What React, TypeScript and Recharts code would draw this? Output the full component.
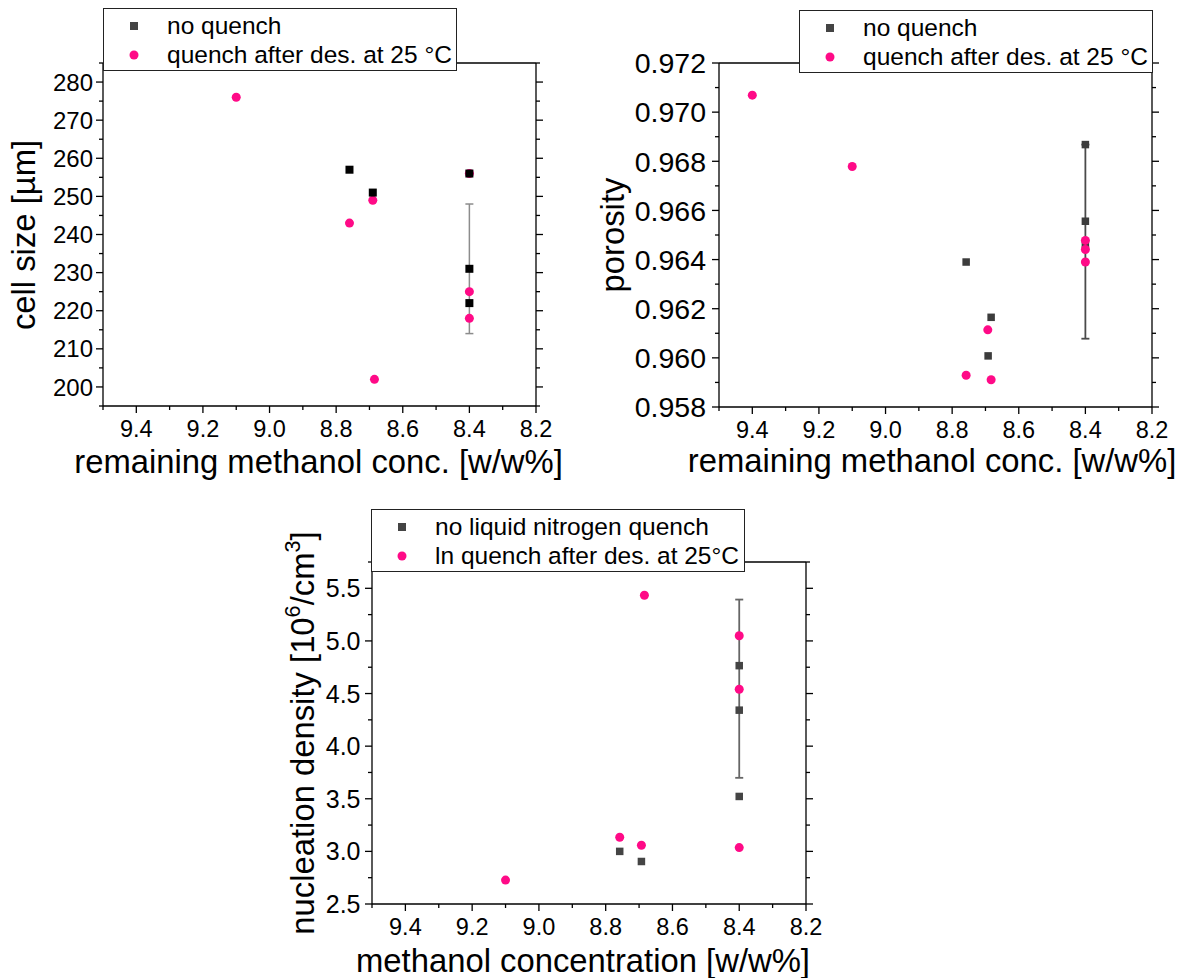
import React from 'react';
import { ScatterChart, Scatter, XAxis, YAxis, ErrorBar, Legend } from 'recharts';

const FONT = '"Liberation Sans", Arial, Helvetica, sans-serif';
const PINK = '#ff0a87';
const LEGEND_GREY = '#444';
const TITLE_SIZE = 32.8;

// remaining methanol concentration [w/w%] (shared x axis)
const concMajor = [9.4, 9.2, 9.0, 8.8, 8.6, 8.4, 8.2];
const concMinor = [9.5, 9.3, 9.1, 8.9, 8.7, 8.5, 8.3];

// cell size [µm]
const cellMajor = [200, 210, 220, 230, 240, 250, 260, 270, 280];
const cellMinor = [195, 205, 215, 225, 235, 245, 255, 265, 275, 285];
const cellNoQuenchConc = [8.76, 8.69, 8.4, 8.4, 8.4];
const cellNoQuench = [257, 251, 256, 231, 222];
const cellQuenchConc = [9.1, 8.76, 8.69, 8.685, 8.4, 8.4, 8.4];
const cellQuench = [276, 243, 249, 202, 256, 225, 218];
const cellErrConc = [8.4];
const cellErrMean = [231];
const cellErrDev = [17];

// porosity
const poroMajor = [0.958, 0.96, 0.962, 0.964, 0.966, 0.968, 0.97, 0.972];
const poroMinor = [0.959, 0.961, 0.963, 0.965, 0.967, 0.969, 0.971];
const poroNoQuenchConc = [8.758, 8.683, 8.692, 8.4, 8.4, 8.4];
const poroNoQuench = [0.9639, 0.96165, 0.96008, 0.96868, 0.96556, 0.9646];
const poroQuenchConc = [9.4, 9.1, 8.758, 8.693, 8.683, 8.4, 8.4, 8.4];
const poroQuench = [0.97069, 0.96779, 0.95929, 0.96114, 0.95911, 0.96478, 0.96441, 0.9639];
const poroErrConc = [8.4];
const poroErrMean = [0.96473];
const poroErrDev = [0.00395];

// nucleation density [10^6/cm^3]
const nucMajor = [2.5, 3.0, 3.5, 4.0, 4.5, 5.0, 5.5];
const nucMinor = [2.75, 3.25, 3.75, 4.25, 4.75, 5.25, 5.75];
const nucNoQuenchConc = [8.758, 8.693, 8.4, 8.4, 8.4];
const nucNoQuench = [3.0, 2.904, 4.765, 4.342, 3.522];
const nucQuenchConc = [9.1, 8.758, 8.693, 8.684, 8.4, 8.4, 8.4];
const nucQuench = [2.727, 3.134, 3.058, 5.434, 5.049, 4.541, 3.036];
const nucErrConc = [8.4];
const nucErrMean = [4.546];
const nucErrDev = [0.847];

type Pt = { x: number; y: number; err?: number };

const zip = (xs: number[], ys: number[], errs?: number[]): Pt[] =>
  xs.map((x, i) => ({ x, y: ys[i], err: errs ? errs[i] : undefined }));

type Side = 'bottom' | 'top' | 'left' | 'right';

// draws major/minor tick marks pointing outwards, labels only on majors
function axisTick(side: Side, majors: number[], fmt: ((v: number) => string) | null, fontSize = 23.5, gap = 10) {
  return (props: any) => {
    const { x, y, payload } = props;
    const v = payload.value as number;
    const major = majors.some((m) => Math.abs(m - v) < 1e-9);
    const len = major ? 7 : 4;
    const stroke = { stroke: '#000', strokeWidth: 1.3 };
    const txt = { fill: '#000', fontFamily: FONT, fontSize };
    if (side === 'bottom') {
      return (
        <g>
          <line x1={x} y1={y} x2={x} y2={y + len} {...stroke} />
          {major && fmt && <text x={x} y={y + gap} textAnchor="middle" {...txt}>{fmt(v)}</text>}
        </g>
      );
    }
    if (side === 'top') return <line x1={x} y1={y} x2={x} y2={y - len} {...stroke} />;
    if (side === 'right') return <line x1={x} y1={y} x2={x + len} y2={y} {...stroke} />;
    return (
      <g>
        <line x1={x} y1={y} x2={x - len} y2={y} {...stroke} />
        {major && fmt && <text x={x - gap} y={y} dy="0.36em" textAnchor="end" {...txt}>{fmt(v)}</text>}
      </g>
    );
  };
}

const squareShape = (size: number, color: string) => (p: any) =>
  <rect x={p.cx - size / 2} y={p.cy - size / 2} width={size} height={size} fill={color} />;
const dotShape = (d: number, color: string) => (p: any) =>
  <circle cx={p.cx} cy={p.cy} r={d / 2} fill={color} />;
const noShape = () => <g />;

const ROWS = [17, 46];

function LegendBox({ payload, fontSize }: { payload?: any[]; fontSize: number }) {
  const items = (payload ?? [])
    .filter((e) => e.type === 'square' || e.type === 'circle')
    .sort((a, b) => (a.type === 'square' ? 0 : 1) - (b.type === 'square' ? 0 : 1));
  return (
    <div style={{ position: 'relative', width: '100%', height: '100%', boxSizing: 'border-box', border: '1px solid #222', background: '#fff', fontFamily: FONT }}>
      {items.map((e, i) => (
        <div key={e.value} style={{ position: 'absolute', left: 0, top: ROWS[i] - 14, height: 28, display: 'flex', alignItems: 'center' }}>
          <svg width={60} height={28} style={{ display: 'block' }}>
            {e.type === 'square'
              ? <rect x={26} y={10} width={8} height={8} fill={LEGEND_GREY} />
              : <circle cx={30} cy={14} r={4.5} fill={PINK} />}
          </svg>
          <span style={{ marginLeft: 3, fontSize, lineHeight: '28px', whiteSpace: 'nowrap', color: '#000' }}>{e.value}</span>
        </div>
      ))}
    </div>
  );
}

type PanelProps = {
  left: number; top: number; width: number; height: number;
  plot: { l: number; t: number; r: number; b: number };
  yDomain: [number, number]; yMajor: number[]; yMinor: number[];
  yFmt: (v: number) => string; yFont: number; yGap: number;
  squares: Pt[]; circles: Pt[]; errs: Pt[];
  squareColor: string; squareSize: number; errColor: string; errWidth: number;
  squaresOnTop: boolean;
  names: [string, string];
  legend: { l: number; t: number; w: number; h: number };
  xTitle: React.ReactNode; xTitleX: number; xTitleBase: number;
  yTitle: React.ReactNode; yTitleBase: number; yTitleY: number;
};

function Panel(p: PanelProps) {
  const concTicks = [...concMajor, ...concMinor];
  const yTicks = [...p.yMajor, ...p.yMinor];
  const margin = {
    left: p.plot.l - 100,
    top: p.plot.t - 10,
    right: p.width - p.plot.r - 10,
    bottom: p.height - p.plot.b - 40,
  };
  const axisLine = { stroke: '#000', strokeWidth: 1.3 };
  const common = { type: 'number' as const, allowDataOverflow: true, interval: 0, tickSize: 0, tickMargin: 0, tickLine: false, axisLine };
  // baseline offset of a single-line box whose line-height equals the font size
  const base = TITLE_SIZE * 0.8465;
  const title = { fontFamily: FONT, fontSize: TITLE_SIZE, lineHeight: `${TITLE_SIZE}px`, whiteSpace: 'nowrap' as const, color: '#000' };

  const squareSeries = (
    <Scatter key="sq" name={p.names[0]} data={p.squares} legendType="square" fill={p.squareColor}
      shape={squareShape(p.squareSize, p.squareColor)} isAnimationActive={false} />
  );
  const circleSeries = (
    <Scatter key="ci" name={p.names[1]} data={p.circles} legendType="circle" fill={PINK}
      shape={dotShape(9, PINK)} isAnimationActive={false} />
  );

  return (
    <div style={{ position: 'absolute', left: p.left, top: p.top, width: p.width, height: p.height }}>
      <ScatterChart width={p.width} height={p.height} margin={margin}>
        <XAxis dataKey="x" {...common} domain={[8.2, 9.5]} reversed ticks={concTicks} height={40}
          tick={axisTick('bottom', concMajor, (v) => v.toFixed(1), 23.5, 30.5)} />
        <XAxis xAxisId="t" orientation="top" {...common} domain={[8.2, 9.5]} reversed ticks={concTicks} height={10}
          tick={axisTick('top', concMajor, null)} />
        <YAxis dataKey="y" {...common} domain={p.yDomain} ticks={yTicks} width={100}
          tick={axisTick('left', p.yMajor, p.yFmt, p.yFont, p.yGap)} />
        <YAxis yAxisId="r" orientation="right" {...common} domain={p.yDomain} ticks={yTicks} width={10}
          tick={axisTick('right', p.yMajor, null)} />
        <Scatter name="error" data={p.errs} legendType="none" shape={noShape} isAnimationActive={false}>
          <ErrorBar dataKey="err" direction="y" width={4} stroke={p.errColor} strokeWidth={p.errWidth} />
        </Scatter>
        {p.squaresOnTop ? [circleSeries, squareSeries] : [squareSeries, circleSeries]}
        <Legend layout="horizontal" verticalAlign="middle" align="center"
          wrapperStyle={{ left: p.legend.l, top: p.legend.t, width: p.legend.w, height: p.legend.h }}
          content={(lp: any) => <LegendBox payload={lp.payload} fontSize={24.5} />} />
      </ScatterChart>
      <div style={{ ...title, position: 'absolute', left: p.xTitleX, top: p.xTitleBase - base, transform: 'translateX(-50%)' }}>
        {p.xTitle}
      </div>
      <div style={{ ...title, position: 'absolute', left: p.yTitleBase - (base - TITLE_SIZE / 2), top: p.yTitleY, transform: 'translate(-50%, -50%) rotate(-90deg)' }}>
        {p.yTitle}
      </div>
    </div>
  );
}

const sup = { fontSize: '0.66em', verticalAlign: '0.62em', lineHeight: 0 };

export default function App() {
  return (
    <div style={{ position: 'absolute', left: 0, top: 0, width: 1183, height: 978, background: '#fff' }}>
      <Panel
        left={0} top={0} width={590} height={490}
        plot={{ l: 103, t: 63, r: 536, b: 406 }}
        yDomain={[195, 285]} yMajor={cellMajor} yMinor={cellMinor}
        yFmt={(v) => v.toFixed(0)} yFont={24} yGap={10}
        squares={zip(cellNoQuenchConc, cellNoQuench)}
        circles={zip(cellQuenchConc, cellQuench)}
        errs={zip(cellErrConc, cellErrMean, cellErrDev)}
        squareColor="#000" squareSize={8} errColor="#8c8c8c" errWidth={1.5}
        squaresOnTop
        names={['no quench', 'quench after des. at 25 °C']}
        legend={{ l: 103, t: 8, w: 354, h: 63 }}
        xTitle="remaining methanol conc. [w/w%]" xTitleX={318.5} xTitleBase={474}
        yTitle="cell size [µm]" yTitleBase={35} yTitleY={235}
      />
      <Panel
        left={590} top={0} width={593} height={490}
        plot={{ l: 129, t: 63, r: 562, b: 407 }}
        yDomain={[0.958, 0.972]} yMajor={poroMajor} yMinor={poroMinor}
        yFmt={(v) => v.toFixed(3)} yFont={28.5} yGap={13}
        squares={zip(poroNoQuenchConc, poroNoQuench)}
        circles={zip(poroQuenchConc, poroQuench)}
        errs={zip(poroErrConc, poroErrMean, poroErrDev)}
        squareColor="#3c3c3c" squareSize={7.5} errColor="#4a4a4a" errWidth={1.8}
        squaresOnTop={false}
        names={['no quench', 'quench after des. at 25 °C']}
        legend={{ l: 209, t: 10, w: 354, h: 63 }}
        xTitle="remaining methanol conc. [w/w%]" xTitleX={342} xTitleBase={473}
        yTitle="porosity" yTitleBase={34} yTitleY={235}
      />
      <Panel
        left={270} top={490} width={600} height={488}
        plot={{ l: 102, t: 72, r: 536, b: 414 }}
        yDomain={[2.5, 5.75]} yMajor={nucMajor} yMinor={nucMinor}
        yFmt={(v) => v.toFixed(1)} yFont={25} yGap={11.5}
        squares={zip(nucNoQuenchConc, nucNoQuench)}
        circles={zip(nucQuenchConc, nucQuench)}
        errs={zip(nucErrConc, nucErrMean, nucErrDev)}
        squareColor="#444" squareSize={7.5} errColor="#666" errWidth={1.8}
        squaresOnTop={false}
        names={['no liquid nitrogen quench', 'ln quench after des. at 25°C']}
        legend={{ l: 101, t: 19, w: 374, h: 63 }}
        xTitle="methanol concentration [w/w%]" xTitleX={313} xTitleBase={483}
        yTitle={<span>nucleation density [10<sup style={sup}>6</sup>/cm<sup style={sup}>3</sup>]</span>}
        yTitleBase={44} yTitleY={243}
      />
    </div>
  );
}
